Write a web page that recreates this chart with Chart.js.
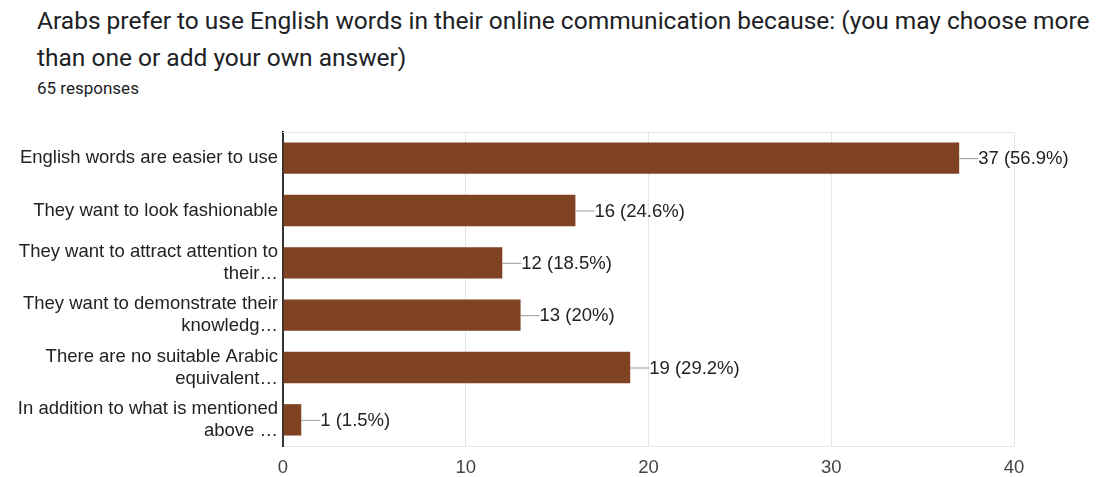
<!DOCTYPE html>
<html>
<head>
<meta charset="utf-8">
<script src="https://cdn.jsdelivr.net/npm/chart.js@4"></script>
<style>
  html, body { margin: 0; padding: 0; background: #fff; }
  #wrap { position: relative; width: 1099px; height: 477px; }
  #title { position: absolute; left: 37px; top: 2px; width: 1062px; font: 24.5px Roboto, sans-serif; line-height: 37px; color: #202124; white-space: nowrap; }
  #sub { position: absolute; left: 37px; top: 78px; font: 17px Roboto, sans-serif; color: #202124; }
  canvas { position: absolute; left: 0; top: 0; }
</style>
</head>
<body>
<div id="wrap">
  <div id="title">Arabs prefer to use English words in their online communication because: (you may choose more<br>than one or add your own answer)</div>
  <div id="sub">65 responses</div>
  <canvas id="chart" width="1099" height="477"></canvas>
</div>
<script>
const categories = [
  ['English words are easier to use'],
  ['They want to look fashionable'],
  ['They want to attract attention to', 'their…'],
  ['They want to demonstrate their', 'knowledg…'],
  ['There are no suitable Arabic', 'equivalent…'],
  ['In addition to what is mentioned', 'above …']
];
const counts = [37, 16, 12, 13, 19, 1];
const percents = ['56.9%', '24.6%', '18.5%', '20%', '29.2%', '1.5%'];
const xTicks = [0, 10, 20, 30, 40];

const FONT = '"Liberation Sans", Arial, sans-serif';

const valueLabels = {
  id: 'valueLabels',
  afterDatasetsDraw(chart) {
    const ctx = chart.ctx;
    const meta = chart.getDatasetMeta(0);
    ctx.save();
    ctx.font = '18.5px ' + FONT;
    ctx.textBaseline = 'middle';
    ctx.fillStyle = '#222';
    meta.data.forEach((bar, i) => {
      ctx.strokeStyle = '#999';
      ctx.lineWidth = 1;
      ctx.beginPath();
      ctx.moveTo(bar.x, bar.y + 0.5);
      ctx.lineTo(bar.x + 19, bar.y + 0.5);
      ctx.stroke();
      ctx.fillText(counts[i] + ' (' + percents[i] + ')', bar.x + 19, bar.y + 1);
    });
    ctx.restore();
  }
};

const frameLine = {
  id: 'frameLine',
  beforeDatasetsDraw(chart) {
    const { ctx, chartArea } = chart;
    ctx.save();
    ctx.strokeStyle = '#e6e6e6';
    ctx.lineWidth = 1;
    ctx.beginPath();
    ctx.moveTo(chartArea.left, chartArea.top + 0.5);
    ctx.lineTo(chartArea.right, chartArea.top + 0.5);
    ctx.stroke();
    ctx.restore();
  }
};

new Chart(document.getElementById('chart'), {
  type: 'bar',
  data: {
    labels: categories,
    datasets: [{
      data: counts,
      backgroundColor: '#7f4223',
      borderColor: '#7f4223',
      borderWidth: 0,
      categoryPercentage: 1,
      barPercentage: 0.6
    }]
  },
  options: {
    indexAxis: 'y',
    responsive: false,
    animation: false,
    layout: { padding: { top: 132, right: 85, left: 0, bottom: 0 } },
    plugins: { legend: { display: false }, tooltip: { enabled: false } },
    scales: {
      x: {
        min: 0,
        max: 40,
        afterBuildTicks(scale) { scale.ticks = xTicks.map(v => ({ value: v })); },
        afterFit(scale) { scale.height = 31; },
        grid: { color: '#e6e6e6', drawTicks: false },
        border: { color: '#e6e6e6' },
        ticks: {
          padding: 11,
          color: '#444',
          font: { family: FONT, size: 18.5 }
        }
      },
      y: {
        afterFit(scale) { scale.width = 283; },
        grid: { display: false, drawTicks: false, tickLength: 0 },
        border: { color: '#333', width: 2 },
        ticks: {
          padding: 5,
          color: '#222',
          font: { family: FONT, size: 18.5, lineHeight: 1.19 }
        }
      }
    }
  },
  plugins: [frameLine, valueLabels]
});
</script>
</body>
</html>
